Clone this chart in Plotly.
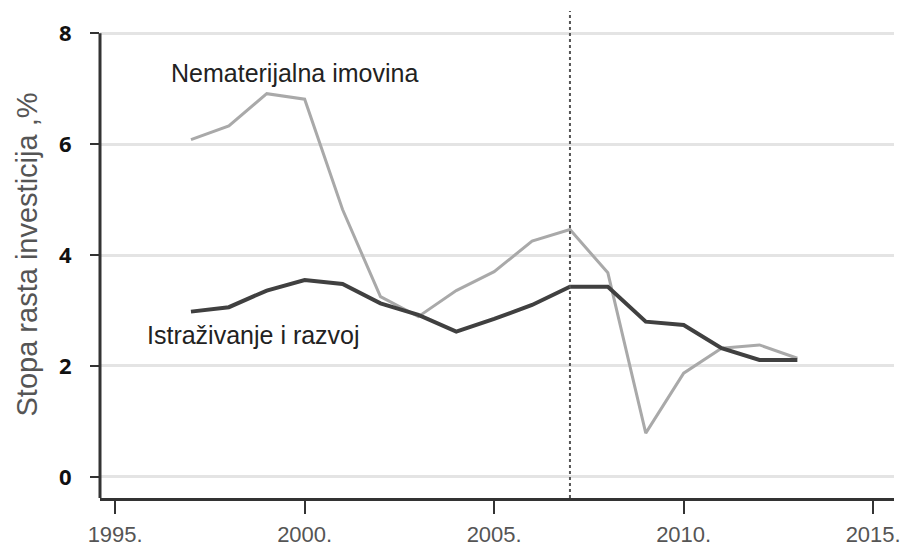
import plotly.graph_objects as go

# godine i stope rasta investicija (%)
years = [1997, 1998, 1999, 2000, 2001, 2002, 2003, 2004, 2005,
         2006, 2007, 2008, 2009, 2010, 2011, 2012, 2013]
intangible = [6.08, 6.33, 6.91, 6.81, 4.82, 3.25, 2.89, 3.36, 3.70,
              4.25, 4.46, 3.68, 0.79, 1.87, 2.32, 2.38, 2.14]
rnd = [2.98, 3.06, 3.36, 3.55, 3.48, 3.13, 2.92, 2.62, 2.85,
       3.10, 3.43, 3.43, 2.80, 2.74, 2.32, 2.11, 2.11]

x_ticks = [1995, 2000, 2005, 2010, 2015]
x_labels = ['1995.', '2000.', '2005.', '2010.', '2015.']
y_ticks = [0, 2, 4, 6, 8]
crisis_year = 2007

label_intangible = 'Nematerijalna imovina'
label_rnd = 'Istraživanje i razvoj'
y_title = 'Stopa rasta investicija ,%'

sans = 'Liberation Sans, Arial, sans-serif'

fig = go.Figure()
fig.add_trace(go.Scatter(x=years, y=intangible, mode='lines',
                         line=dict(color='#a9a9a9', width=3),
                         name=label_intangible))
fig.add_trace(go.Scatter(x=years, y=rnd, mode='lines',
                         line=dict(color='#404040', width=4),
                         name=label_rnd))

y_lo, y_hi = -0.38, 8.4

# left axis line stops at 8, the dotted line goes above it
fig.add_shape(type='line', xref='paper', yref='y', x0=0, x1=0, y0=y_lo, y1=8,
              line=dict(color='#333333', width=3))
fig.add_shape(type='line', xref='x', yref='y', x0=crisis_year, x1=crisis_year,
              y0=y_lo, y1=y_hi, line=dict(color='#555555', width=2, dash='dot'))

fig.add_annotation(x=1999.72, y=7.28, text=label_intangible, showarrow=False,
                   font=dict(family=sans, size=25, color='#222222'))
fig.add_annotation(x=1998.65, y=2.56, text=label_rnd, showarrow=False,
                   font=dict(family=sans, size=25, color='#222222'))

fig.update_layout(
    width=904, height=549,
    margin=dict(l=100, r=10, t=11, b=51),
    plot_bgcolor='white', paper_bgcolor='white',
    showlegend=False,
    xaxis=dict(range=[1994.6, 2015.55], tickvals=x_ticks, ticktext=x_labels,
               ticks='outside', ticklen=13, tickwidth=2, tickcolor='#333333',
               showline=True, linecolor='#333333', linewidth=3,
               showgrid=False, zeroline=False, automargin=False,
               ticklabeloverflow='allow', ticklabelstandoff=2,
               tickfont=dict(family=sans, size=22, color='#555555')),
    yaxis=dict(range=[y_lo, y_hi], tickvals=y_ticks,
               ticks='outside', ticklen=9, tickwidth=2, tickcolor='#333333',
               showline=False, showgrid=True, gridcolor='#e4e4e4', gridwidth=3,
               zeroline=False, ticklabelstandoff=14, automargin=False,
               tickfont=dict(family='Open Sans', size=22, color='#111111', weight='bold'),
               title=dict(text=y_title, standoff=12,
                          font=dict(family=sans, size=29, color='#555555'))),
)

# page has a default 8px body margin; remove it so the figure fills the window
fig.write_html('out.html', config={'displayModeBar': False},
               post_script="document.body.style.margin='0';")
